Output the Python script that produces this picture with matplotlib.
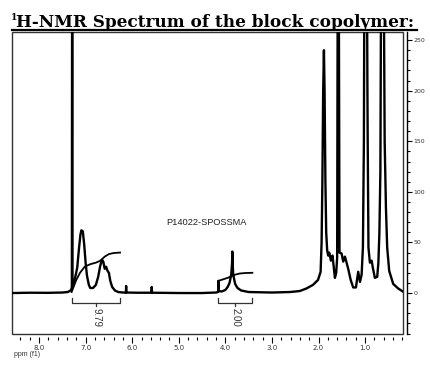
"""1H-NMR spectrum of the block copolymer P14022-SPOSSMA."""
import matplotlib
matplotlib.use("Agg")
import matplotlib.pyplot as plt
from matplotlib.patches import Rectangle
from matplotlib.ticker import MultipleLocator

# traced spectrum (ppm, intensity); tall solvent / backbone peaks run off scale
ppm = [8.58, 8.20, 7.80, 7.50, 7.38, 7.31, 7.295, 7.288, 7.282, 7.27, 7.23, 7.18,
       7.14, 7.11, 7.09, 7.06, 7.03, 7.00, 6.97, 6.93, 6.90, 6.84, 6.78, 6.73,
       6.69, 6.65, 6.62, 6.59, 6.56, 6.53, 6.50, 6.47, 6.43, 6.37, 6.30, 6.20,
       6.135, 6.13, 6.125, 5.90, 5.585, 5.58, 5.575, 5.00, 4.50, 4.20, 4.155,
       4.15, 4.145, 4.08, 4.00, 3.95, 3.91, 3.875, 3.855, 3.85, 3.845, 3.83,
       3.79, 3.74, 3.66, 3.50, 3.00, 2.61, 2.40, 2.26, 2.12, 2.01, 1.955, 1.934,
       1.917, 1.90, 1.884, 1.87, 1.852, 1.835, 1.814, 1.792, 1.77, 1.734, 1.70,
       1.648, 1.62, 1.60, 1.584, 1.569, 1.55, 1.504, 1.47, 1.433, 1.363, 1.31,
       1.255, 1.197, 1.148, 1.11, 1.075, 1.047, 1.026, 1.01, 0.968, 0.95, 0.944,
       0.928, 0.897, 0.86, 0.83, 0.79, 0.74, 0.715, 0.693, 0.672, 0.65, 0.61,
       0.58, 0.553, 0.526, 0.483, 0.397, 0.29, 0.19]
intensity = [0, 0.3, 0.2, 0.5, 1, 3, 6, 400, 8, 9, 14, 25,
             45, 58, 62, 61, 48, 30, 17, 8, 5, 5, 8, 16,
             26, 33, 31, 24, 26, 22, 20, 12, 6, 2.5, 1, 0.5,
             0.5, 7, 0.5, 0.3, 0.3, 6, 0.3, 0, 0, 0.5, 1,
             12, 2, 1.5, 3, 6, 10, 18, 30, 41, 30, 18,
             9, 5, 2.5, 1, 0.5, 1, 2, 4.5, 8, 13, 21, 50,
             110, 200, 240, 200, 110, 60, 42, 37, 40, 32, 37,
             15, 20, 35, 400, 400, 40, 39, 31, 36, 24, 13,
             5.5, 5.5, 21, 11, 18, 45, 150, 400, 400, 200, 150,
             45, 30, 32, 24, 15, 16, 30, 60, 120, 400, 400,
             150, 85, 45, 22, 9, 4.5, 1.5]

# integral curves
int1_ppm = [7.30, 7.25, 7.20, 7.12, 7.02, 6.90, 6.78, 6.68, 6.59, 6.50, 6.40, 6.26]
int1_val = [1, 7, 13, 20, 26, 28.5, 30, 32, 36, 38.5, 39.5, 40]
int2_ppm = [4.16, 4.15, 4.05, 3.95, 3.87, 3.80, 3.69, 3.56, 3.42]
int2_val = [1, 12, 13.5, 15, 16.5, 18, 19.3, 19.8, 20]

# integration regions and values
regions = [(7.285, 6.26), (4.15, 3.42)]
integrals = ["9.79", "2.00"]

W, H = 430, 369
fig = plt.figure(figsize=(W / 100, H / 100), dpi=100, facecolor="white")
ax = fig.add_axes([12 / W, (H - 333.5) / H, 391.3 / W, 301.5 / H])

ax.plot(ppm, intensity, color="black", lw=1.7, solid_joinstyle="round")
ax.plot(int1_ppm, int1_val, color="black", lw=1.3)
ax.plot(int2_ppm, int2_val, color="black", lw=1.3)

for (a, b), lab in zip(regions, integrals):
    ax.plot([a, a, b, b], [-5, -10, -10, -5], color="#333333", lw=0.9)
    m = (a + b) / 2
    ax.plot([m, m], [-10, -13], color="#333333", lw=0.9)
    ax.text(m, -15, lab, rotation=270, ha="center", va="top",
            fontsize=7, family="Liberation Sans", color="#333333")

ax.text(0.498, 0.3675, "P14022-SPOSSMA", transform=ax.transAxes,
        ha="center", va="center", fontsize=6.7, family="Liberation Sans",
        color="#222222")

ax.set_xlim(8.58, 0.18)
ax.set_ylim(-40, 258)

# box around the plot
ax.add_patch(Rectangle((0, 0), 1, 1, transform=ax.transAxes, fill=False,
                       edgecolor="#333333", lw=1.0, clip_on=False))
for s in ["top", "left", "bottom"]:
    ax.spines[s].set_visible(False)
ax.spines["bottom"].set_position(("outward", 2.5))
ax.spines["right"].set_position(("outward", 2.5))
ax.spines["right"].set_linewidth(1.0)

ax.xaxis.set_major_locator(MultipleLocator(1.0))
ax.xaxis.set_minor_locator(MultipleLocator(0.2))
ax.xaxis.set_major_formatter(lambda v, p: f"{v:.1f}")
ax.tick_params(axis="x", which="major", length=4, width=0.8, labelsize=5,
               pad=2, labelcolor="#333333")
ax.tick_params(axis="x", which="minor", length=2.5, width=0.8)

ax.yaxis.tick_right()
ax.yaxis.set_major_locator(MultipleLocator(50))
ax.yaxis.set_minor_locator(MultipleLocator(10))
ax.tick_params(axis="y", which="major", length=3.5, width=0.8, labelsize=4.5,
               pad=1.5, labelcolor="#333333")
ax.tick_params(axis="y", which="minor", length=2, width=0.8)
ax.set_ylim(-40, 258)

fig.text(14 / W, (H - 354.5) / H, "ppm (f1)", fontsize=5, color="#333333",
         va="center", family="Liberation Sans")

# title with superscript and underline
fig.text(11 / W, (H - 18) / H, "1", fontsize=6.5, family="DejaVu Serif",
         fontweight="bold", va="center")
fig.text(16.5 / W, (H - 27) / H, "H-NMR Spectrum of the block copolymer:",
         fontsize=12.2, family="DejaVu Serif", fontweight="bold", va="baseline")
fig.add_artist(plt.Line2D([11.7 / W, 416.7 / W], [(H - 29.5) / H] * 2,
                          color="black", lw=1.6))

fig.savefig("out.png", dpi=100, facecolor="white")
